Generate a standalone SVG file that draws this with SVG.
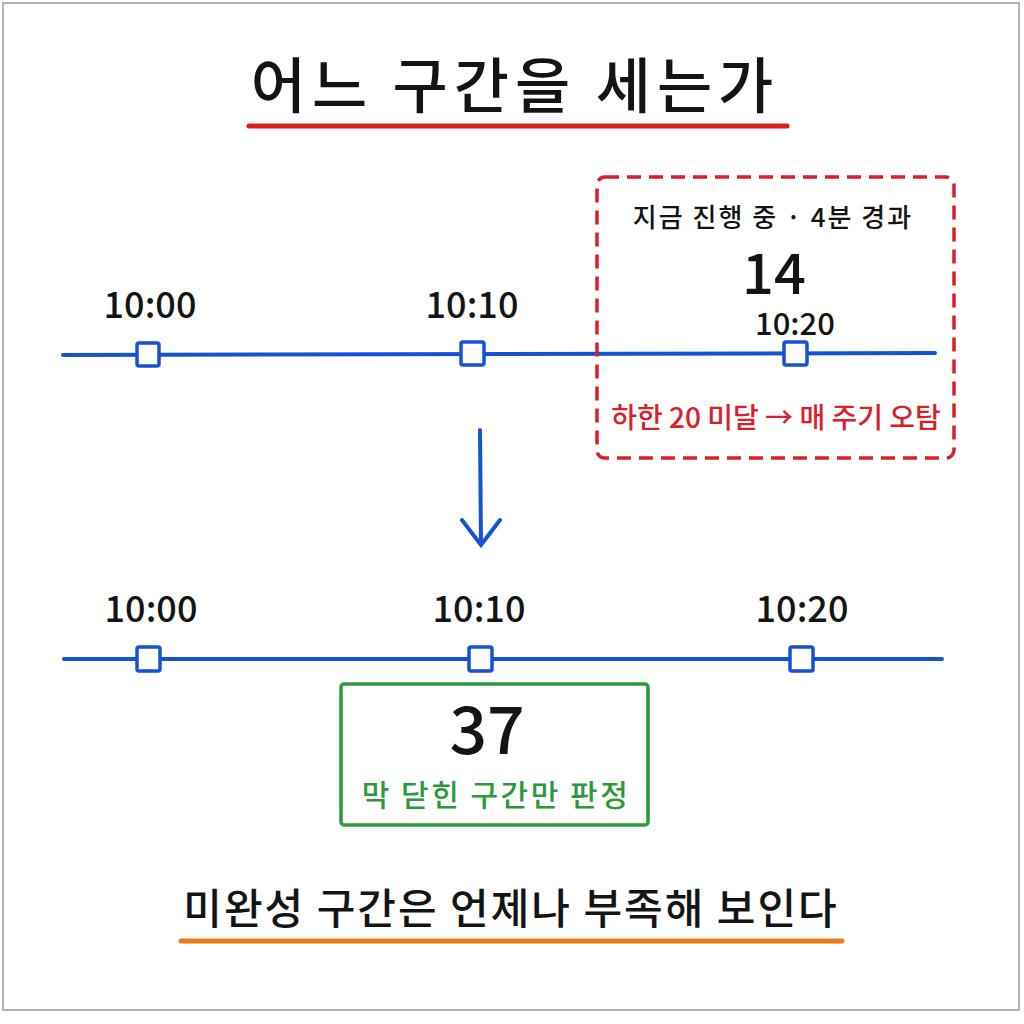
<svg xmlns="http://www.w3.org/2000/svg" width="1024" height="1024" viewBox="0 0 1024 1024">
<style>
text{font-family:"Noto Sans CJK KR","Noto Sans",sans-serif;text-anchor:middle;fill:#141414}
.tl{font-size:36px;font-weight:500}
.line{stroke:#1652d4;stroke-width:4;stroke-linecap:round;fill:none}
.tick{fill:#fff;stroke:#1652d4;stroke-width:3.5}
</style>
<rect x="3" y="3" width="1016" height="1007" fill="#fff" stroke="#b4b4b4" stroke-width="2"/>
<g id="title">
<text x="515" y="108" font-size="60" font-weight="500" letter-spacing="6">어느 구간을 세는가</text>
<line x1="249" y1="126" x2="787" y2="126" stroke="#dd1c1c" stroke-width="5" stroke-linecap="round"/>
</g>
<g id="connectors">
<line class="line" x1="63" y1="355" x2="935" y2="353"/>
<line class="line" x1="64" y1="659" x2="942" y2="659"/>
<path class="line" d="M480 430 L481 545 M462 520 L481 545 L500 520"/>
</g>
<g id="top-timeline">
<rect class="tick" x="137" y="343" width="22" height="23" rx="2"/>
<rect class="tick" x="461" y="342" width="23" height="23" rx="2"/>
<rect class="tick" x="784" y="342" width="23" height="23" rx="2"/>
<text class="tl" x="150" y="318">10:00</text>
<text class="tl" x="472" y="318">10:10</text>
</g>
<g id="current-window">
<rect x="597" y="177" width="357" height="281" rx="8" fill="none" stroke="#d9202a" stroke-width="3.5" stroke-dasharray="14 8"/>
<text x="773" y="227" font-size="26" font-weight="500" letter-spacing="2">지금 진행 중 · 4분 경과</text>
<text x="774" y="294" font-size="56" font-weight="500">14</text>
<text class="tl" x="795" y="335" style="font-size:31px">10:20</text>
<text x="776" y="428" font-size="28" font-weight="500" style="fill:#d9202a">하한 20 미달 → 매 주기 오탐</text>
</g>
<g id="bottom-timeline">
<rect class="tick" x="137" y="647" width="23" height="24" rx="2"/>
<rect class="tick" x="469" y="647" width="23" height="24" rx="2"/>
<rect class="tick" x="790" y="647" width="23" height="24" rx="2"/>
<text class="tl" x="151" y="622">10:00</text>
<text class="tl" x="479" y="622">10:10</text>
<text class="tl" x="802" y="622">10:20</text>
</g>
<g id="closed-window">
<rect x="341" y="684" width="307" height="141" rx="3" fill="#fff" stroke="#2a9a3c" stroke-width="3.5"/>
<text x="487" y="754" font-size="66" font-weight="500">37</text>
<text x="496" y="806" font-size="30" font-weight="500" letter-spacing="2.5" style="fill:#2a9a3c">막 닫힌 구간만 판정</text>
</g>
<g id="conclusion">
<text x="511" y="924" font-size="42" font-weight="500" letter-spacing="2">미완성 구간은 언제나 부족해 보인다</text>
<line x1="181" y1="941" x2="842" y2="941" stroke="#f07a14" stroke-width="5" stroke-linecap="round"/>
</g>
</svg>
